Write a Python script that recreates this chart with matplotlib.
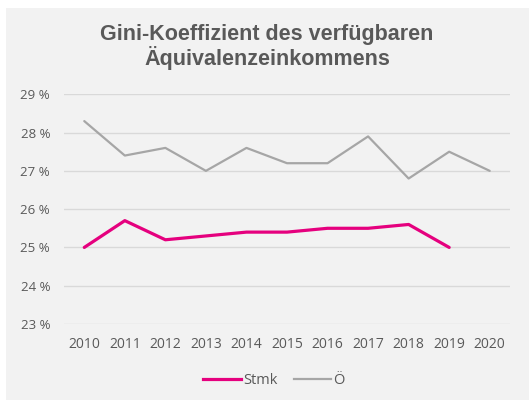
import matplotlib
matplotlib.use('Agg')
import matplotlib.pyplot as plt
from matplotlib.patches import Rectangle
from matplotlib.lines import Line2D

# data
years = [2010, 2011, 2012, 2013, 2014, 2015, 2016, 2017, 2018, 2019, 2020]
stmk = [25.0, 25.7, 25.2, 25.3, 25.4, 25.4, 25.5, 25.5, 25.6, 25.0]
oesterreich = [28.3, 27.4, 27.6, 27.0, 27.6, 27.2, 27.2, 27.9, 26.8, 27.5, 27.0]
y_ticks = [23, 24, 25, 26, 27, 28, 29]

text_col = '#595959'
bg_col = '#f2f2f2'

W, H = 529, 403
fig = plt.figure(figsize=(W / 100, H / 100), dpi=100)
fig.patch.set_facecolor('white')

# grey chart box, behind everything
box = Rectangle((6 / W, 3 / H), 1 - 6 / W, 1 - 11 / H, transform=fig.transFigure,
                facecolor=bg_col, edgecolor='none')
box.set_zorder(-10)
fig.add_artist(box)

ax = fig.add_axes([64 / W, 1 - 324 / H, (510 - 64) / W, (324 - 94.3) / H])
ax.set_facecolor('none')
ax.set_zorder(1)

x_pos = list(range(len(years)))
ax.plot(x_pos[:len(stmk)], stmk, color='#e5007e', linewidth=2.3, solid_capstyle='round', zorder=3)
ax.plot(x_pos, oesterreich, color='#a6a6a6', linewidth=1.6, solid_capstyle='round', zorder=2)

ax.set_xlim(-0.5, len(years) - 0.5)
ax.set_ylim(23, 29)
ax.set_yticks(y_ticks)
ax.set_yticklabels([f'{v} %' for v in y_ticks])
ax.set_xticks(x_pos)
ax.set_xticklabels([str(y) for y in years])

ax.grid(axis='y', color='#d9d9d9', linewidth=1)
ax.set_axisbelow(True)
for s in ax.spines.values():
    s.set_visible(False)
ax.tick_params(length=0, labelsize=10, labelcolor=text_col)
ax.tick_params(axis='y', pad=10, labelsize=9.5)
ax.tick_params(axis='x', pad=9)
for lbl in ax.get_xticklabels() + ax.get_yticklabels():
    lbl.set_fontfamily('Open Sans')

# title
fig.text(267 / W, 1 - 47 / H, 'Gini-Koeffizient des verfügbaren\nÄquivalenzeinkommens',
         ha='center', va='center', fontsize=15.5, fontweight='bold',
         color=text_col, family='Liberation Sans', linespacing=1.05)

# legend
handles = [Line2D([], [], color='#e5007e', linewidth=2.3),
           Line2D([], [], color='#a6a6a6', linewidth=1.6)]
fig.legend(handles, ['Stmk', 'Ö'], loc='center', bbox_to_anchor=(274 / W, 1 - 381 / H),
           ncol=2, frameon=False, handlelength=2.6, handletextpad=0.15, columnspacing=1.1,
           prop={'family': 'Open Sans', 'size': 10.5}, labelcolor=text_col)

fig.savefig('out.png', dpi=100, facecolor='white')
